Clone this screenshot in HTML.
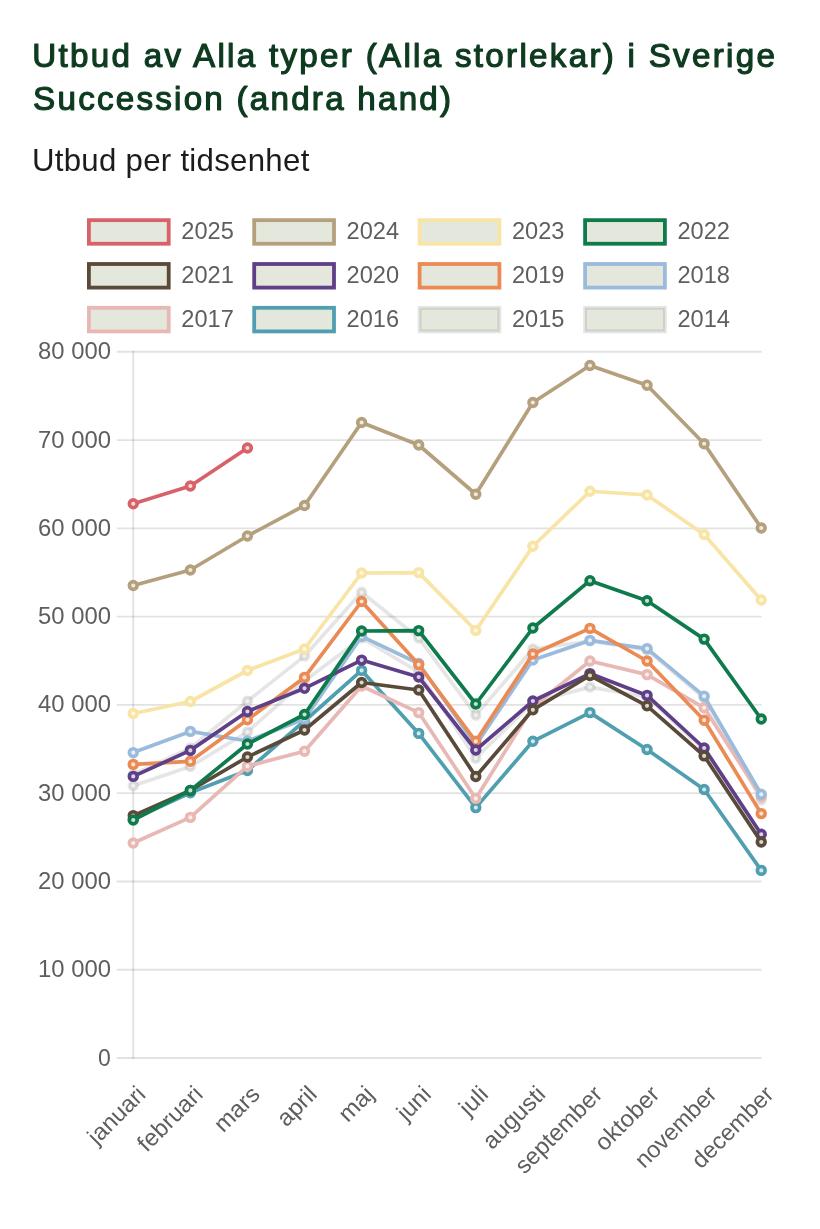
<!DOCTYPE html>
<html lang="sv">
<head>
<meta charset="utf-8">
<title>Utbud</title>
<style>
html,body{margin:0;padding:0;background:#fff;}
body{width:820px;height:1229px;overflow:hidden;font-family:"Liberation Sans",sans-serif;}
svg{display:block;}
text{font-family:"Liberation Sans",sans-serif;}
</style>
</head>
<body>
<svg width="820" height="1229" viewBox="0 0 820 1229">
<rect x="0" y="0" width="820" height="1229" fill="#ffffff"/>
<g id="title" font-size="33.2" fill="#0e3b1f" stroke="#0e3b1f" stroke-width="1.2" stroke-linejoin="round">
<text x="32.3" y="67.3" textLength="742.6" lengthAdjust="spacing">Utbud av Alla typer (Alla storlekar) i Sverige</text>
<text x="33.1" y="110.3" textLength="418" lengthAdjust="spacing">Succession (andra hand)</text>
</g>
<text id="subtitle" x="31.9" y="170.7" font-size="31.2" fill="#1c1c1c" textLength="277.4" lengthAdjust="spacing">Utbud per tidsenhet</text>
<g id="legend" font-size="23" fill="#5e5e5e">
<rect x="88.90" y="220.15" width="79.8" height="23.6" fill="#e4e8dc" stroke="#d8626a" stroke-width="3.8"/><text x="181.30" y="239.35" textLength="52.5" lengthAdjust="spacingAndGlyphs">2025</text>
<rect x="254.20" y="220.15" width="79.8" height="23.6" fill="#e4e8dc" stroke="#b5a07e" stroke-width="3.8"/><text x="346.60" y="239.35" textLength="52.5" lengthAdjust="spacingAndGlyphs">2024</text>
<rect x="419.60" y="220.15" width="79.8" height="23.6" fill="#e4e8dc" stroke="#f8e4a4" stroke-width="3.8"/><text x="512.00" y="239.35" textLength="52.5" lengthAdjust="spacingAndGlyphs">2023</text>
<rect x="585.10" y="220.15" width="79.8" height="23.6" fill="#e4e8dc" stroke="#0f7a4c" stroke-width="3.8"/><text x="677.50" y="239.35" textLength="52.5" lengthAdjust="spacingAndGlyphs">2022</text>
<rect x="88.90" y="264.00" width="79.8" height="23.6" fill="#e4e8dc" stroke="#5a4a3a" stroke-width="3.8"/><text x="181.30" y="283.20" textLength="52.5" lengthAdjust="spacingAndGlyphs">2021</text>
<rect x="254.20" y="264.00" width="79.8" height="23.6" fill="#e4e8dc" stroke="#5e3f88" stroke-width="3.8"/><text x="346.60" y="283.20" textLength="52.5" lengthAdjust="spacingAndGlyphs">2020</text>
<rect x="419.60" y="264.00" width="79.8" height="23.6" fill="#e4e8dc" stroke="#ea8a55" stroke-width="3.8"/><text x="512.00" y="283.20" textLength="52.5" lengthAdjust="spacingAndGlyphs">2019</text>
<rect x="585.10" y="264.00" width="79.8" height="23.6" fill="#e4e8dc" stroke="#9bbbdc" stroke-width="3.8"/><text x="677.50" y="283.20" textLength="52.5" lengthAdjust="spacingAndGlyphs">2018</text>
<rect x="88.90" y="307.80" width="79.8" height="23.6" fill="#e4e8dc" stroke="#e8b8b4" stroke-width="3.8"/><text x="181.30" y="327.00" textLength="52.5" lengthAdjust="spacingAndGlyphs">2017</text>
<rect x="254.20" y="307.80" width="79.8" height="23.6" fill="#e4e8dc" stroke="#4f9fb0" stroke-width="3.8"/><text x="346.60" y="327.00" textLength="52.5" lengthAdjust="spacingAndGlyphs">2016</text>
<rect x="419.60" y="307.80" width="79.8" height="23.6" fill="#e4e8dc" stroke="rgba(0,0,0,0.1)" stroke-width="3.8"/><text x="512.00" y="327.00" textLength="52.5" lengthAdjust="spacingAndGlyphs">2015</text>
<rect x="585.10" y="307.80" width="79.8" height="23.6" fill="#e4e8dc" stroke="rgba(0,0,0,0.1)" stroke-width="3.8"/><text x="677.50" y="327.00" textLength="52.5" lengthAdjust="spacingAndGlyphs">2014</text>
</g>
<g id="grid" stroke="rgba(0,0,0,0.115)" stroke-width="1.9" fill="none">
<line x1="116.8" y1="1058.00" x2="761.6" y2="1058.00"/><line x1="116.8" y1="969.73" x2="761.6" y2="969.73"/><line x1="116.8" y1="881.45" x2="761.6" y2="881.45"/><line x1="116.8" y1="793.17" x2="761.6" y2="793.17"/><line x1="116.8" y1="704.90" x2="761.6" y2="704.90"/><line x1="116.8" y1="616.62" x2="761.6" y2="616.62"/><line x1="116.8" y1="528.35" x2="761.6" y2="528.35"/><line x1="116.8" y1="440.08" x2="761.6" y2="440.08"/><line x1="116.8" y1="351.80" x2="761.6" y2="351.80"/><line x1="133.25" y1="350.90" x2="133.25" y2="1058.90"/>
</g>
<g id="yticks" font-size="23" fill="#5e5e5e" text-anchor="end">
<text x="110.9" y="1065.50">0</text><text x="110.9" y="977.23" textLength="72.9" lengthAdjust="spacingAndGlyphs">10 000</text><text x="110.9" y="888.95" textLength="72.9" lengthAdjust="spacingAndGlyphs">20 000</text><text x="110.9" y="800.67" textLength="72.9" lengthAdjust="spacingAndGlyphs">30 000</text><text x="110.9" y="712.40" textLength="72.9" lengthAdjust="spacingAndGlyphs">40 000</text><text x="110.9" y="624.12" textLength="72.9" lengthAdjust="spacingAndGlyphs">50 000</text><text x="110.9" y="535.85" textLength="72.9" lengthAdjust="spacingAndGlyphs">60 000</text><text x="110.9" y="447.58" textLength="72.9" lengthAdjust="spacingAndGlyphs">70 000</text><text x="110.9" y="359.30" textLength="72.9" lengthAdjust="spacingAndGlyphs">80 000</text>
</g>
<g id="xticks" font-size="23.5" fill="#5e5e5e" text-anchor="end">
<text transform="translate(147.05 1095.70) rotate(-45)" textLength="70.9" lengthAdjust="spacingAndGlyphs">januari</text><text transform="translate(204.14 1095.70) rotate(-45)" textLength="81.0" lengthAdjust="spacingAndGlyphs">februari</text><text transform="translate(261.23 1095.70) rotate(-45)" textLength="53.6" lengthAdjust="spacingAndGlyphs">mars</text><text transform="translate(318.32 1095.70) rotate(-45)" textLength="45.4" lengthAdjust="spacingAndGlyphs">april</text><text transform="translate(375.41 1095.70) rotate(-45)" textLength="39.0" lengthAdjust="spacingAndGlyphs">maj</text><text transform="translate(432.50 1095.70) rotate(-45)" textLength="37.3" lengthAdjust="spacingAndGlyphs">juni</text><text transform="translate(489.59 1095.70) rotate(-45)" textLength="30.0" lengthAdjust="spacingAndGlyphs">juli</text><text transform="translate(546.68 1095.70) rotate(-45)" textLength="77.5" lengthAdjust="spacingAndGlyphs">augusti</text><text transform="translate(603.77 1095.70) rotate(-45)" textLength="112.2" lengthAdjust="spacingAndGlyphs">september</text><text transform="translate(660.86 1095.70) rotate(-45)" textLength="79.9" lengthAdjust="spacingAndGlyphs">oktober</text><text transform="translate(717.95 1095.70) rotate(-45)" textLength="104.2" lengthAdjust="spacingAndGlyphs">november</text><text transform="translate(775.04 1095.70) rotate(-45)" textLength="104.8" lengthAdjust="spacingAndGlyphs">december</text>
</g>
<g id="series" fill="none" stroke-linejoin="round" stroke-linecap="butt">
<g stroke="rgba(0,0,0,0.1)"><polyline points="133.25,785.70 190.34,766.50 247.43,732.00 304.52,681.00 361.61,638.00 418.70,672.00 475.79,758.30 532.88,702.00 589.97,687.10 647.06,697.00 704.15,750.00 761.24,836.00" stroke-width="3.7"/><circle cx="133.25" cy="785.70" r="3.9" stroke-width="3.6" fill="#f0f0ee"/><circle cx="190.34" cy="766.50" r="3.9" stroke-width="3.6" fill="#f0f0ee"/><circle cx="247.43" cy="732.00" r="3.9" stroke-width="3.6" fill="#f0f0ee"/><circle cx="304.52" cy="681.00" r="3.9" stroke-width="3.6" fill="#f0f0ee"/><circle cx="361.61" cy="638.00" r="3.9" stroke-width="3.6" fill="#f0f0ee"/><circle cx="418.70" cy="672.00" r="3.9" stroke-width="3.6" fill="#f0f0ee"/><circle cx="475.79" cy="758.30" r="3.9" stroke-width="3.6" fill="#f0f0ee"/><circle cx="532.88" cy="702.00" r="3.9" stroke-width="3.6" fill="#f0f0ee"/><circle cx="589.97" cy="687.10" r="3.9" stroke-width="3.6" fill="#f0f0ee"/><circle cx="647.06" cy="697.00" r="3.9" stroke-width="3.6" fill="#f0f0ee"/><circle cx="704.15" cy="750.00" r="3.9" stroke-width="3.6" fill="#f0f0ee"/><circle cx="761.24" cy="836.00" r="3.9" stroke-width="3.6" fill="#f0f0ee"/></g>
<g stroke="rgba(0,0,0,0.1)"><polyline points="133.25,774.50 190.34,748.00 247.43,701.20 304.52,656.10 361.61,592.30 418.70,638.00 475.79,715.20 532.88,649.00 589.97,641.00 647.06,650.00 704.15,698.00 761.24,800.00" stroke-width="3.7"/><circle cx="133.25" cy="774.50" r="3.9" stroke-width="3.6" fill="#f0f0ee"/><circle cx="190.34" cy="748.00" r="3.9" stroke-width="3.6" fill="#f0f0ee"/><circle cx="247.43" cy="701.20" r="3.9" stroke-width="3.6" fill="#f0f0ee"/><circle cx="304.52" cy="656.10" r="3.9" stroke-width="3.6" fill="#f0f0ee"/><circle cx="361.61" cy="592.30" r="3.9" stroke-width="3.6" fill="#f0f0ee"/><circle cx="418.70" cy="638.00" r="3.9" stroke-width="3.6" fill="#f0f0ee"/><circle cx="475.79" cy="715.20" r="3.9" stroke-width="3.6" fill="#f0f0ee"/><circle cx="532.88" cy="649.00" r="3.9" stroke-width="3.6" fill="#f0f0ee"/><circle cx="589.97" cy="641.00" r="3.9" stroke-width="3.6" fill="#f0f0ee"/><circle cx="647.06" cy="650.00" r="3.9" stroke-width="3.6" fill="#f0f0ee"/><circle cx="704.15" cy="698.00" r="3.9" stroke-width="3.6" fill="#f0f0ee"/><circle cx="761.24" cy="800.00" r="3.9" stroke-width="3.6" fill="#f0f0ee"/></g>
<g stroke="#4f9fb0"><polyline points="133.25,819.00 190.34,792.70 247.43,770.50 304.52,721.00 361.61,670.40 418.70,733.40 475.79,807.60 532.88,741.30 589.97,712.60 647.06,749.50 704.15,789.50 761.24,870.40" stroke-width="3.7"/><circle cx="133.25" cy="819.00" r="3.9" stroke-width="3.6" fill="#d8e9e9"/><circle cx="190.34" cy="792.70" r="3.9" stroke-width="3.6" fill="#d8e9e9"/><circle cx="247.43" cy="770.50" r="3.9" stroke-width="3.6" fill="#d8e9e9"/><circle cx="304.52" cy="721.00" r="3.9" stroke-width="3.6" fill="#d8e9e9"/><circle cx="361.61" cy="670.40" r="3.9" stroke-width="3.6" fill="#d8e9e9"/><circle cx="418.70" cy="733.40" r="3.9" stroke-width="3.6" fill="#d8e9e9"/><circle cx="475.79" cy="807.60" r="3.9" stroke-width="3.6" fill="#d8e9e9"/><circle cx="532.88" cy="741.30" r="3.9" stroke-width="3.6" fill="#d8e9e9"/><circle cx="589.97" cy="712.60" r="3.9" stroke-width="3.6" fill="#d8e9e9"/><circle cx="647.06" cy="749.50" r="3.9" stroke-width="3.6" fill="#d8e9e9"/><circle cx="704.15" cy="789.50" r="3.9" stroke-width="3.6" fill="#d8e9e9"/><circle cx="761.24" cy="870.40" r="3.9" stroke-width="3.6" fill="#d8e9e9"/></g>
<g stroke="#e8b8b4"><polyline points="133.25,843.00 190.34,817.40 247.43,766.20 304.52,751.20 361.61,686.00 418.70,712.60 475.79,798.40 532.88,707.00 589.97,661.00 647.06,674.60 704.15,707.80 761.24,796.50" stroke-width="3.7"/><circle cx="133.25" cy="843.00" r="3.9" stroke-width="3.6" fill="#f9efea"/><circle cx="190.34" cy="817.40" r="3.9" stroke-width="3.6" fill="#f9efea"/><circle cx="247.43" cy="766.20" r="3.9" stroke-width="3.6" fill="#f9efea"/><circle cx="304.52" cy="751.20" r="3.9" stroke-width="3.6" fill="#f9efea"/><circle cx="361.61" cy="686.00" r="3.9" stroke-width="3.6" fill="#f9efea"/><circle cx="418.70" cy="712.60" r="3.9" stroke-width="3.6" fill="#f9efea"/><circle cx="475.79" cy="798.40" r="3.9" stroke-width="3.6" fill="#f9efea"/><circle cx="532.88" cy="707.00" r="3.9" stroke-width="3.6" fill="#f9efea"/><circle cx="589.97" cy="661.00" r="3.9" stroke-width="3.6" fill="#f9efea"/><circle cx="647.06" cy="674.60" r="3.9" stroke-width="3.6" fill="#f9efea"/><circle cx="704.15" cy="707.80" r="3.9" stroke-width="3.6" fill="#f9efea"/><circle cx="761.24" cy="796.50" r="3.9" stroke-width="3.6" fill="#f9efea"/></g>
<g stroke="#9bbbdc"><polyline points="133.25,752.60 190.34,731.40 247.43,741.00 304.52,719.00 361.61,636.40 418.70,663.50 475.79,745.00 532.88,660.00 589.97,640.40 647.06,648.60 704.15,696.20 761.24,794.30" stroke-width="3.7"/><circle cx="133.25" cy="752.60" r="3.9" stroke-width="3.6" fill="#e9f0f3"/><circle cx="190.34" cy="731.40" r="3.9" stroke-width="3.6" fill="#e9f0f3"/><circle cx="247.43" cy="741.00" r="3.9" stroke-width="3.6" fill="#e9f0f3"/><circle cx="304.52" cy="719.00" r="3.9" stroke-width="3.6" fill="#e9f0f3"/><circle cx="361.61" cy="636.40" r="3.9" stroke-width="3.6" fill="#e9f0f3"/><circle cx="418.70" cy="663.50" r="3.9" stroke-width="3.6" fill="#e9f0f3"/><circle cx="475.79" cy="745.00" r="3.9" stroke-width="3.6" fill="#e9f0f3"/><circle cx="532.88" cy="660.00" r="3.9" stroke-width="3.6" fill="#e9f0f3"/><circle cx="589.97" cy="640.40" r="3.9" stroke-width="3.6" fill="#e9f0f3"/><circle cx="647.06" cy="648.60" r="3.9" stroke-width="3.6" fill="#e9f0f3"/><circle cx="704.15" cy="696.20" r="3.9" stroke-width="3.6" fill="#e9f0f3"/><circle cx="761.24" cy="794.30" r="3.9" stroke-width="3.6" fill="#e9f0f3"/></g>
<g stroke="#ea8a55"><polyline points="133.25,764.40 190.34,761.30 247.43,719.80 304.52,677.40 361.61,601.50 418.70,664.60 475.79,741.30 532.88,654.00 589.97,628.40 647.06,661.00 704.15,720.20 761.24,813.60" stroke-width="3.7"/><circle cx="133.25" cy="764.40" r="3.9" stroke-width="3.6" fill="#fae5d5"/><circle cx="190.34" cy="761.30" r="3.9" stroke-width="3.6" fill="#fae5d5"/><circle cx="247.43" cy="719.80" r="3.9" stroke-width="3.6" fill="#fae5d5"/><circle cx="304.52" cy="677.40" r="3.9" stroke-width="3.6" fill="#fae5d5"/><circle cx="361.61" cy="601.50" r="3.9" stroke-width="3.6" fill="#fae5d5"/><circle cx="418.70" cy="664.60" r="3.9" stroke-width="3.6" fill="#fae5d5"/><circle cx="475.79" cy="741.30" r="3.9" stroke-width="3.6" fill="#fae5d5"/><circle cx="532.88" cy="654.00" r="3.9" stroke-width="3.6" fill="#fae5d5"/><circle cx="589.97" cy="628.40" r="3.9" stroke-width="3.6" fill="#fae5d5"/><circle cx="647.06" cy="661.00" r="3.9" stroke-width="3.6" fill="#fae5d5"/><circle cx="704.15" cy="720.20" r="3.9" stroke-width="3.6" fill="#fae5d5"/><circle cx="761.24" cy="813.60" r="3.9" stroke-width="3.6" fill="#fae5d5"/></g>
<g stroke="#5e3f88"><polyline points="133.25,776.40 190.34,750.40 247.43,711.50 304.52,688.30 361.61,660.10 418.70,677.00 475.79,750.00 532.88,701.00 589.97,673.60 647.06,695.40 704.15,748.00 761.24,834.30" stroke-width="3.7"/><circle cx="133.25" cy="776.40" r="3.9" stroke-width="3.6" fill="#dbd4e0"/><circle cx="190.34" cy="750.40" r="3.9" stroke-width="3.6" fill="#dbd4e0"/><circle cx="247.43" cy="711.50" r="3.9" stroke-width="3.6" fill="#dbd4e0"/><circle cx="304.52" cy="688.30" r="3.9" stroke-width="3.6" fill="#dbd4e0"/><circle cx="361.61" cy="660.10" r="3.9" stroke-width="3.6" fill="#dbd4e0"/><circle cx="418.70" cy="677.00" r="3.9" stroke-width="3.6" fill="#dbd4e0"/><circle cx="475.79" cy="750.00" r="3.9" stroke-width="3.6" fill="#dbd4e0"/><circle cx="532.88" cy="701.00" r="3.9" stroke-width="3.6" fill="#dbd4e0"/><circle cx="589.97" cy="673.60" r="3.9" stroke-width="3.6" fill="#dbd4e0"/><circle cx="647.06" cy="695.40" r="3.9" stroke-width="3.6" fill="#dbd4e0"/><circle cx="704.15" cy="748.00" r="3.9" stroke-width="3.6" fill="#dbd4e0"/><circle cx="761.24" cy="834.30" r="3.9" stroke-width="3.6" fill="#dbd4e0"/></g>
<g stroke="#5a4a3a"><polyline points="133.25,815.60 190.34,790.50 247.43,757.00 304.52,730.00 361.61,682.50 418.70,690.00 475.79,776.50 532.88,709.80 589.97,675.50 647.06,705.80 704.15,755.90 761.24,842.00" stroke-width="3.7"/><circle cx="133.25" cy="815.60" r="3.9" stroke-width="3.6" fill="#dad7cf"/><circle cx="190.34" cy="790.50" r="3.9" stroke-width="3.6" fill="#dad7cf"/><circle cx="247.43" cy="757.00" r="3.9" stroke-width="3.6" fill="#dad7cf"/><circle cx="304.52" cy="730.00" r="3.9" stroke-width="3.6" fill="#dad7cf"/><circle cx="361.61" cy="682.50" r="3.9" stroke-width="3.6" fill="#dad7cf"/><circle cx="418.70" cy="690.00" r="3.9" stroke-width="3.6" fill="#dad7cf"/><circle cx="475.79" cy="776.50" r="3.9" stroke-width="3.6" fill="#dad7cf"/><circle cx="532.88" cy="709.80" r="3.9" stroke-width="3.6" fill="#dad7cf"/><circle cx="589.97" cy="675.50" r="3.9" stroke-width="3.6" fill="#dad7cf"/><circle cx="647.06" cy="705.80" r="3.9" stroke-width="3.6" fill="#dad7cf"/><circle cx="704.15" cy="755.90" r="3.9" stroke-width="3.6" fill="#dad7cf"/><circle cx="761.24" cy="842.00" r="3.9" stroke-width="3.6" fill="#dad7cf"/></g>
<g stroke="#0f7a4c"><polyline points="133.25,820.00 190.34,790.40 247.43,744.00 304.52,714.50 361.61,631.00 418.70,630.60 475.79,704.00 532.88,628.00 589.97,580.70 647.06,600.80 704.15,639.10 761.24,719.00" stroke-width="3.7"/><circle cx="133.25" cy="820.00" r="3.9" stroke-width="3.6" fill="#cae1d3"/><circle cx="190.34" cy="790.40" r="3.9" stroke-width="3.6" fill="#cae1d3"/><circle cx="247.43" cy="744.00" r="3.9" stroke-width="3.6" fill="#cae1d3"/><circle cx="304.52" cy="714.50" r="3.9" stroke-width="3.6" fill="#cae1d3"/><circle cx="361.61" cy="631.00" r="3.9" stroke-width="3.6" fill="#cae1d3"/><circle cx="418.70" cy="630.60" r="3.9" stroke-width="3.6" fill="#cae1d3"/><circle cx="475.79" cy="704.00" r="3.9" stroke-width="3.6" fill="#cae1d3"/><circle cx="532.88" cy="628.00" r="3.9" stroke-width="3.6" fill="#cae1d3"/><circle cx="589.97" cy="580.70" r="3.9" stroke-width="3.6" fill="#cae1d3"/><circle cx="647.06" cy="600.80" r="3.9" stroke-width="3.6" fill="#cae1d3"/><circle cx="704.15" cy="639.10" r="3.9" stroke-width="3.6" fill="#cae1d3"/><circle cx="761.24" cy="719.00" r="3.9" stroke-width="3.6" fill="#cae1d3"/></g>
<g stroke="#f8e4a4"><polyline points="133.25,713.50 190.34,701.50 247.43,670.50 304.52,649.00 361.61,573.00 418.70,572.60 475.79,630.50 532.88,546.25 589.97,491.25 647.06,495.00 704.15,534.50 761.24,600.00" stroke-width="3.7"/><circle cx="133.25" cy="713.50" r="3.9" stroke-width="3.6" fill="#fdf9e7"/><circle cx="190.34" cy="701.50" r="3.9" stroke-width="3.6" fill="#fdf9e7"/><circle cx="247.43" cy="670.50" r="3.9" stroke-width="3.6" fill="#fdf9e7"/><circle cx="304.52" cy="649.00" r="3.9" stroke-width="3.6" fill="#fdf9e7"/><circle cx="361.61" cy="573.00" r="3.9" stroke-width="3.6" fill="#fdf9e7"/><circle cx="418.70" cy="572.60" r="3.9" stroke-width="3.6" fill="#fdf9e7"/><circle cx="475.79" cy="630.50" r="3.9" stroke-width="3.6" fill="#fdf9e7"/><circle cx="532.88" cy="546.25" r="3.9" stroke-width="3.6" fill="#fdf9e7"/><circle cx="589.97" cy="491.25" r="3.9" stroke-width="3.6" fill="#fdf9e7"/><circle cx="647.06" cy="495.00" r="3.9" stroke-width="3.6" fill="#fdf9e7"/><circle cx="704.15" cy="534.50" r="3.9" stroke-width="3.6" fill="#fdf9e7"/><circle cx="761.24" cy="600.00" r="3.9" stroke-width="3.6" fill="#fdf9e7"/></g>
<g stroke="#b5a07e"><polyline points="133.25,585.50 190.34,570.00 247.43,536.00 304.52,505.50 361.61,422.50 418.70,445.00 475.79,494.25 532.88,402.50 589.97,365.50 647.06,385.20 704.15,443.75 761.24,528.00" stroke-width="3.7"/><circle cx="133.25" cy="585.50" r="3.9" stroke-width="3.6" fill="#eeeade"/><circle cx="190.34" cy="570.00" r="3.9" stroke-width="3.6" fill="#eeeade"/><circle cx="247.43" cy="536.00" r="3.9" stroke-width="3.6" fill="#eeeade"/><circle cx="304.52" cy="505.50" r="3.9" stroke-width="3.6" fill="#eeeade"/><circle cx="361.61" cy="422.50" r="3.9" stroke-width="3.6" fill="#eeeade"/><circle cx="418.70" cy="445.00" r="3.9" stroke-width="3.6" fill="#eeeade"/><circle cx="475.79" cy="494.25" r="3.9" stroke-width="3.6" fill="#eeeade"/><circle cx="532.88" cy="402.50" r="3.9" stroke-width="3.6" fill="#eeeade"/><circle cx="589.97" cy="365.50" r="3.9" stroke-width="3.6" fill="#eeeade"/><circle cx="647.06" cy="385.20" r="3.9" stroke-width="3.6" fill="#eeeade"/><circle cx="704.15" cy="443.75" r="3.9" stroke-width="3.6" fill="#eeeade"/><circle cx="761.24" cy="528.00" r="3.9" stroke-width="3.6" fill="#eeeade"/></g>
<g stroke="#d8626a"><polyline points="133.25,503.75 190.34,486.00 247.43,448.00" stroke-width="3.7"/><circle cx="133.25" cy="503.75" r="3.9" stroke-width="3.6" fill="#f6dcda"/><circle cx="190.34" cy="486.00" r="3.9" stroke-width="3.6" fill="#f6dcda"/><circle cx="247.43" cy="448.00" r="3.9" stroke-width="3.6" fill="#f6dcda"/></g>
</g>
</svg>
</body>
</html>
